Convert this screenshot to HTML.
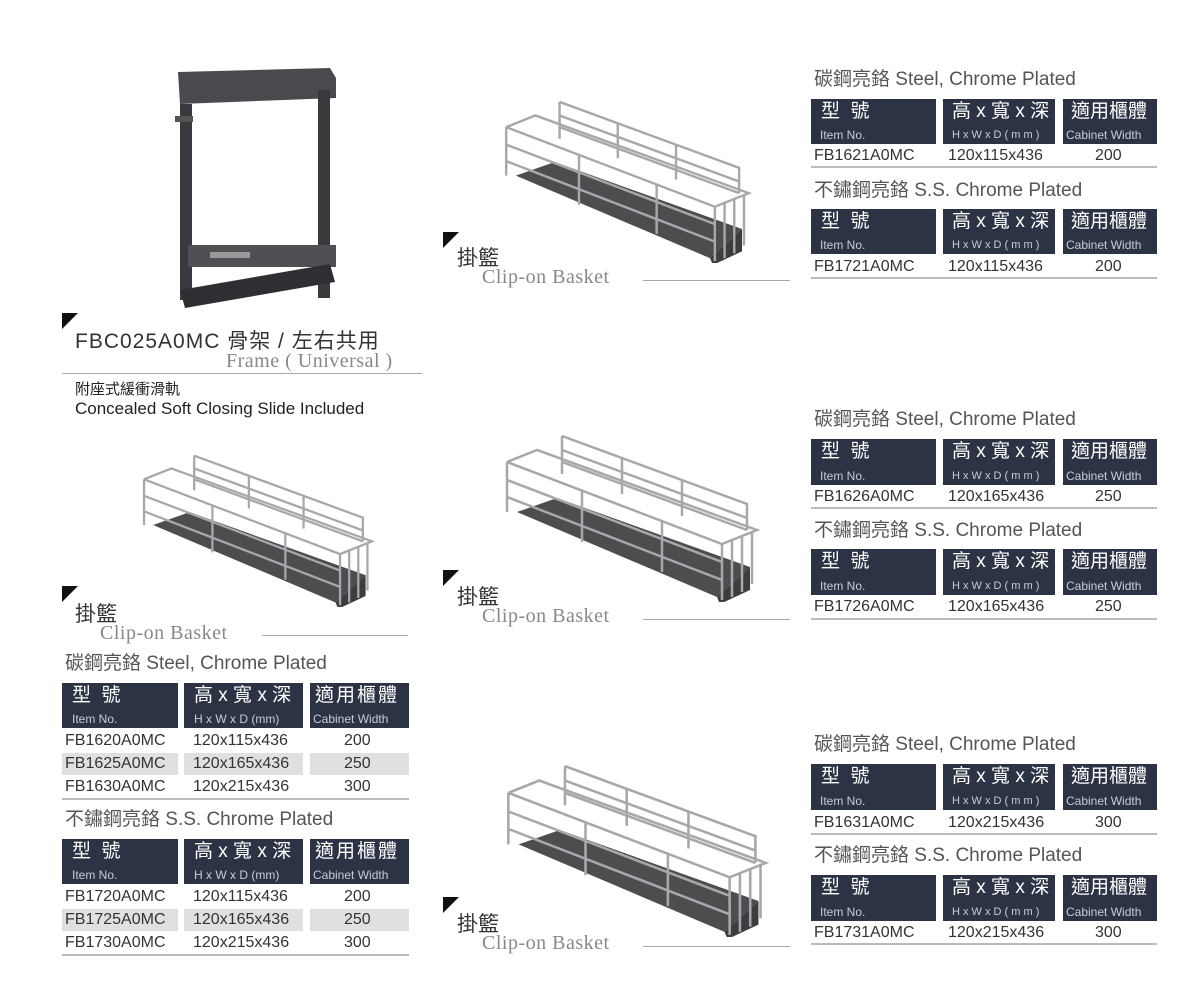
<!DOCTYPE html>
<html><head><meta charset="utf-8">
<style>
body{margin:0;width:1200px;height:1001px;background:#fff;position:relative;overflow:hidden;font-family:"Liberation Sans","Noto Sans CJK TC",sans-serif;color:#444}
.a{position:absolute;white-space:nowrap}
.t{font-size:19px;color:#555;line-height:22px}
.h{position:absolute;background:#2c3345;color:#fff;overflow:hidden}
.h .b{position:absolute;top:1px;font-size:19px;line-height:24px;white-space:nowrap}
.h .s{position:absolute;bottom:1px;font-size:12px;color:#c8ccd6;line-height:15px;white-space:nowrap}
.r{position:absolute;font-size:16px;color:#333;line-height:22px}
.ln{position:absolute;height:2px;background:#bbb}
.g{position:absolute;background:#e0e0e0}
.tri{position:absolute;width:0;height:0;border-top:16px solid #111;border-right:16px solid transparent}
.cj{font-size:21px;color:#333}
.cl{font-family:"Liberation Serif",serif;font-size:20px;color:#888;letter-spacing:0.5px}
.sl{position:absolute;height:1px;background:#aaa}
</style></head><body>

<!-- frame image -->
<svg class="a" style="left:170px;top:60px" width="175" height="250">
<polygon points="8,12 160,8 166,18 166,38 10,44" fill="#4a4a4e"/>
<rect x="10" y="44" width="12" height="196" fill="#3a3a3e"/>
<rect x="148" y="30" width="12" height="208" fill="#3a3a3e"/>
<rect x="5" y="56" width="18" height="6" fill="#555"/>
<rect x="18" y="185" width="148" height="22" fill="#505054"/>
<polygon points="10,230 160,204 165,222 15,248" fill="#2f2f33"/>
<rect x="40" y="192" width="40" height="6" fill="#999"/>
</svg>

<!-- basket generic drawing -->
<svg class="a" style="left:500px;top:98px" width="255" height="165" viewBox="0 0 260 170">
<g id="bk">
<polygon points="15,80 55,66 248,135 215,165" fill="#4d4d50"/>
<polygon points="215,165 248,135 248,158 218,172" fill="#3d3d40"/>
<g fill="none" stroke="#a8a8ac" stroke-width="2.5">
<polyline points="60,4 245,72 245,98"/>
<line x1="60" y1="4" x2="60" y2="42"/>
<line x1="60" y1="18" x2="245" y2="86"/>
<line x1="60" y1="30" x2="245" y2="98"/>
<line x1="120" y1="26" x2="120" y2="62"/>
<line x1="180" y1="48" x2="180" y2="84"/>
<polyline points="5,30 35,18 255,98 220,112 5,30"/>
<line x1="5" y1="48" x2="220" y2="130"/>
<line x1="5" y1="65" x2="220" y2="148"/>
<line x1="5" y1="30" x2="5" y2="80"/>
<line x1="80" y1="58" x2="80" y2="110"/>
<line x1="160" y1="88" x2="160" y2="140"/>
<line x1="220" y1="112" x2="220" y2="168"/>
<line x1="230" y1="108" x2="230" y2="165"/>
<line x1="240" y1="104" x2="240" y2="160"/>
<line x1="250" y1="100" x2="250" y2="152"/>
</g></g></svg>
<svg class="a" style="left:498px;top:432px" width="268" height="170" viewBox="0 0 260 170"><use href="#bk"/></svg>
<svg class="a" style="left:503px;top:762px" width="268" height="175" viewBox="0 0 260 170"><use href="#bk"/></svg>
<svg class="a" style="left:126px;top:452px" width="264" height="155" viewBox="0 0 260 170"><use href="#bk"/></svg>

<!-- frame caption -->
<div class="tri" style="left:62px;top:313px"></div>
<div class="a" style="left:75px;top:325px;font-size:21px;color:#333;letter-spacing:1px">FBC025A0MC 骨架 / 左右共用</div>
<div class="a cl" style="left:226px;top:350px">Frame ( Universal )</div>
<div class="sl" style="left:62px;top:373px;width:360px"></div>
<div class="a" style="left:75px;top:378px;font-size:15px;color:#222">附座式緩衝滑軌</div>
<div class="a" style="left:75px;top:399px;font-size:17px;color:#222">Concealed Soft Closing Slide Included</div>

<!-- basket captions -->
<div class="tri" style="left:443px;top:232px"></div>
<div class="a cj" style="left:457px;top:242px">掛籃</div>
<div class="a cl" style="left:482px;top:266px">Clip-on Basket</div>
<div class="sl" style="left:643px;top:280px;width:147px"></div>

<div class="tri" style="left:443px;top:570px"></div>
<div class="a cj" style="left:457px;top:581px">掛籃</div>
<div class="a cl" style="left:482px;top:605px">Clip-on Basket</div>
<div class="sl" style="left:643px;top:619px;width:147px"></div>

<div class="tri" style="left:443px;top:897px"></div>
<div class="a cj" style="left:457px;top:908px">掛籃</div>
<div class="a cl" style="left:482px;top:932px">Clip-on Basket</div>
<div class="sl" style="left:643px;top:946px;width:147px"></div>

<div class="tri" style="left:62px;top:586px"></div>
<div class="a cj" style="left:75px;top:598px">掛籃</div>
<div class="a cl" style="left:100px;top:622px">Clip-on Basket</div>
<div class="sl" style="left:262px;top:635px;width:146px"></div>

<!-- right tables -->
<div class="a t" style="left:814px;top:69px">碳鋼亮鉻 Steel, Chrome Plated</div>
<div class="h" style="left:811px;top:99px;width:125px;height:45px"><span class="b" style="left:10px">型&nbsp;&nbsp;號</span><span class="s" style="left:9px">Item No.</span></div>
<div class="h" style="left:943px;top:99px;width:112px;height:45px"><span class="b" style="left:9px">高 x 寬 x 深</span><span class="s" style="left:9px;font-size:11px">H x W x D ( m m )</span></div>
<div class="h" style="left:1063px;top:99px;width:94px;height:45px"><span class="b" style="left:8px">適用櫃體</span><span class="s" style="left:3px">Cabinet Width</span></div>
<div class="r" style="left:814px;top:145px">FB1621A0MC</div><div class="r" style="left:948px;top:145px">120x115x436</div><div class="r" style="left:1095px;top:145px">200</div>
<div class="ln" style="left:811px;top:166px;width:346px"></div>

<div class="a t" style="left:814px;top:180px">不鏽鋼亮鉻 S.S. Chrome Plated</div>
<div class="h" style="left:811px;top:209px;width:125px;height:45px"><span class="b" style="left:10px">型&nbsp;&nbsp;號</span><span class="s" style="left:9px">Item No.</span></div>
<div class="h" style="left:943px;top:209px;width:112px;height:45px"><span class="b" style="left:9px">高 x 寬 x 深</span><span class="s" style="left:9px;font-size:11px">H x W x D ( m m )</span></div>
<div class="h" style="left:1063px;top:209px;width:94px;height:45px"><span class="b" style="left:8px">適用櫃體</span><span class="s" style="left:3px">Cabinet Width</span></div>
<div class="r" style="left:814px;top:256px">FB1721A0MC</div><div class="r" style="left:948px;top:256px">120x115x436</div><div class="r" style="left:1095px;top:256px">200</div>
<div class="ln" style="left:811px;top:277px;width:346px"></div>

<div class="a t" style="left:814px;top:409px">碳鋼亮鉻 Steel, Chrome Plated</div>
<div class="h" style="left:811px;top:439px;width:125px;height:46px"><span class="b" style="left:10px">型&nbsp;&nbsp;號</span><span class="s" style="left:9px">Item No.</span></div>
<div class="h" style="left:943px;top:439px;width:112px;height:46px"><span class="b" style="left:9px">高 x 寬 x 深</span><span class="s" style="left:9px;font-size:11px">H x W x D ( m m )</span></div>
<div class="h" style="left:1063px;top:439px;width:94px;height:46px"><span class="b" style="left:8px">適用櫃體</span><span class="s" style="left:3px">Cabinet Width</span></div>
<div class="r" style="left:814px;top:486px">FB1626A0MC</div><div class="r" style="left:948px;top:486px">120x165x436</div><div class="r" style="left:1095px;top:486px">250</div>
<div class="ln" style="left:811px;top:507px;width:346px"></div>

<div class="a t" style="left:814px;top:520px">不鏽鋼亮鉻 S.S. Chrome Plated</div>
<div class="h" style="left:811px;top:549px;width:125px;height:46px"><span class="b" style="left:10px">型&nbsp;&nbsp;號</span><span class="s" style="left:9px">Item No.</span></div>
<div class="h" style="left:943px;top:549px;width:112px;height:46px"><span class="b" style="left:9px">高 x 寬 x 深</span><span class="s" style="left:9px;font-size:11px">H x W x D ( m m )</span></div>
<div class="h" style="left:1063px;top:549px;width:94px;height:46px"><span class="b" style="left:8px">適用櫃體</span><span class="s" style="left:3px">Cabinet Width</span></div>
<div class="r" style="left:814px;top:596px">FB1726A0MC</div><div class="r" style="left:948px;top:596px">120x165x436</div><div class="r" style="left:1095px;top:596px">250</div>
<div class="ln" style="left:811px;top:618px;width:346px"></div>

<div class="a t" style="left:814px;top:734px">碳鋼亮鉻 Steel, Chrome Plated</div>
<div class="h" style="left:811px;top:764px;width:125px;height:46px"><span class="b" style="left:10px">型&nbsp;&nbsp;號</span><span class="s" style="left:9px">Item No.</span></div>
<div class="h" style="left:943px;top:764px;width:112px;height:46px"><span class="b" style="left:9px">高 x 寬 x 深</span><span class="s" style="left:9px;font-size:11px">H x W x D ( m m )</span></div>
<div class="h" style="left:1063px;top:764px;width:94px;height:46px"><span class="b" style="left:8px">適用櫃體</span><span class="s" style="left:3px">Cabinet Width</span></div>
<div class="r" style="left:814px;top:812px">FB1631A0MC</div><div class="r" style="left:948px;top:812px">120x215x436</div><div class="r" style="left:1095px;top:812px">300</div>
<div class="ln" style="left:811px;top:833px;width:346px"></div>

<div class="a t" style="left:814px;top:845px">不鏽鋼亮鉻 S.S. Chrome Plated</div>
<div class="h" style="left:811px;top:875px;width:125px;height:46px"><span class="b" style="left:10px">型&nbsp;&nbsp;號</span><span class="s" style="left:9px">Item No.</span></div>
<div class="h" style="left:943px;top:875px;width:112px;height:46px"><span class="b" style="left:9px">高 x 寬 x 深</span><span class="s" style="left:9px;font-size:11px">H x W x D ( m m )</span></div>
<div class="h" style="left:1063px;top:875px;width:94px;height:46px"><span class="b" style="left:8px">適用櫃體</span><span class="s" style="left:3px">Cabinet Width</span></div>
<div class="r" style="left:814px;top:922px">FB1731A0MC</div><div class="r" style="left:948px;top:922px">120x215x436</div><div class="r" style="left:1095px;top:922px">300</div>
<div class="ln" style="left:811px;top:943px;width:346px"></div>

<!-- left tables -->
<div class="a t" style="left:65px;top:653px">碳鋼亮鉻 Steel, Chrome Plated</div>
<div class="h" style="left:62px;top:683px;width:116px;height:45px"><span class="b" style="left:10px">型&nbsp;&nbsp;號</span><span class="s" style="left:10px">Item No.</span></div>
<div class="h" style="left:184px;top:683px;width:119px;height:45px"><span class="b" style="left:10px">高 x 寬 x 深</span><span class="s" style="left:10px">H x W x D (mm)</span></div>
<div class="h" style="left:310px;top:683px;width:99px;height:45px"><span class="b" style="left:5px;letter-spacing:2px">適用櫃體</span><span class="s" style="left:3px">Cabinet Width</span></div>
<div class="g" style="left:62px;top:753px;width:116px;height:22px"></div><div class="g" style="left:184px;top:753px;width:119px;height:22px"></div><div class="g" style="left:310px;top:753px;width:99px;height:22px"></div>
<div class="r" style="left:65px;top:730px">FB1620A0MC</div><div class="r" style="left:193px;top:730px">120x115x436</div><div class="r" style="left:344px;top:730px">200</div>
<div class="r" style="left:65px;top:753px">FB1625A0MC</div><div class="r" style="left:193px;top:753px">120x165x436</div><div class="r" style="left:344px;top:753px">250</div>
<div class="r" style="left:65px;top:776px">FB1630A0MC</div><div class="r" style="left:193px;top:776px">120x215x436</div><div class="r" style="left:344px;top:776px">300</div>
<div class="ln" style="left:62px;top:798px;width:347px"></div>

<div class="a t" style="left:65px;top:809px">不鏽鋼亮鉻 S.S. Chrome Plated</div>
<div class="h" style="left:62px;top:839px;width:116px;height:45px"><span class="b" style="left:10px">型&nbsp;&nbsp;號</span><span class="s" style="left:10px">Item No.</span></div>
<div class="h" style="left:184px;top:839px;width:119px;height:45px"><span class="b" style="left:10px">高 x 寬 x 深</span><span class="s" style="left:10px">H x W x D (mm)</span></div>
<div class="h" style="left:310px;top:839px;width:99px;height:45px"><span class="b" style="left:5px;letter-spacing:2px">適用櫃體</span><span class="s" style="left:3px">Cabinet Width</span></div>
<div class="g" style="left:62px;top:909px;width:116px;height:22px"></div><div class="g" style="left:184px;top:909px;width:119px;height:22px"></div><div class="g" style="left:310px;top:909px;width:99px;height:22px"></div>
<div class="r" style="left:65px;top:886px">FB1720A0MC</div><div class="r" style="left:193px;top:886px">120x115x436</div><div class="r" style="left:344px;top:886px">200</div>
<div class="r" style="left:65px;top:909px">FB1725A0MC</div><div class="r" style="left:193px;top:909px">120x165x436</div><div class="r" style="left:344px;top:909px">250</div>
<div class="r" style="left:65px;top:932px">FB1730A0MC</div><div class="r" style="left:193px;top:932px">120x215x436</div><div class="r" style="left:344px;top:932px">300</div>
<div class="ln" style="left:62px;top:954px;width:347px"></div>

</body></html>
